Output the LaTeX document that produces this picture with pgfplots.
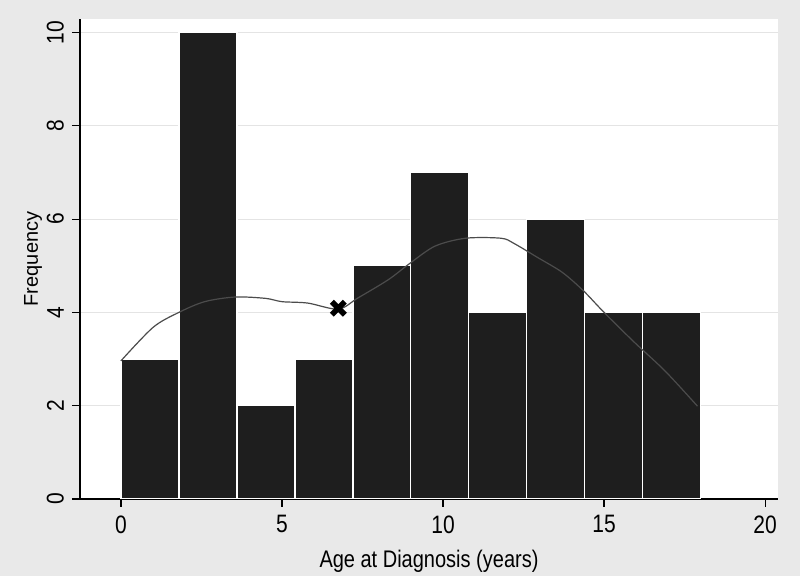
\documentclass[border=0pt]{standalone}
\usepackage{fontspec}
\setmainfont{Liberation Sans}
\usepackage{pgfplots}
\pgfplotsset{compat=1.18}

\definecolor{bggray}{RGB}{233,233,233}
\definecolor{bardark}{RGB}{30,30,30}
\definecolor{gridgray}{RGB}{228,228,228}

\begin{document}
\begin{tikzpicture}
\fill[bggray] (0,0) rectangle (400pt,288pt);
\begin{axis}[
    at={(40pt,38.5pt)}, anchor=south west,
    scale only axis,
    width=349pt, height=240pt,
    xmin=-1.27, xmax=20.4,
    ymin=0, ymax=10.29,
    axis background/.style={fill=white},
    axis x line*=bottom, axis y line*=left,
    axis line style={-, line width=0.6pt, black},
    xtick={0,5,10,15,20},
    ytick={0,2,4,6,8,10},
    tick align=outside,
    major tick length=4pt,
    tick style={black, line width=0.6pt},
    ymajorgrids=true,
    grid style={gridgray, line width=0.6pt},
    /pgf/number format/assume math mode=true,
    xticklabel style={font=\fontsize{10.5}{12}\selectfont, yscale=1.2},
    yticklabel style={font=\fontsize{10.5}{12}\selectfont, rotate=90, anchor=south, yscale=1.15},
    xlabel={Age at Diagnosis (years)},
    ylabel={Frequency},
    xlabel style={font=\fontsize{10}{12}\selectfont, yscale=1.2},
    ylabel style={font=\fontsize{10}{12}\selectfont, yshift=-5pt},
]
\addplot[ybar interval, fill=bardark, draw=white, line width=0.7pt] coordinates {
    (0,3) (1.8,10) (3.6,2) (5.4,3) (7.2,5) (9,7) (10.8,4) (12.6,6) (14.4,4) (16.2,4) (18,4)
};
\addplot[black!70, line width=0.6pt, smooth, no marks] coordinates {
    (0,2.96) (1.0,3.68) (1.8,4.0) (2.6,4.23) (3.55,4.33) (4.5,4.30) (5.0,4.23)
    (5.8,4.2) (6.75,4.07) (7.36,4.31) (8.3,4.7) (8.95,5.04) (9.75,5.42)
    (10.7,5.59) (11.8,5.59) (12.2,5.48) (12.93,5.18) (13.7,4.86) (14.35,4.47)
    (15.0,4.0) (15.94,3.36) (16.9,2.74) (17.9,1.99)
};
\addplot[only marks, mark=x, mark size=4.6pt, line width=2.8pt, black] coordinates {
    (6.75,4.09)
};
\end{axis}
\pgfresetboundingbox
\useasboundingbox (0,0) rectangle (400pt,288pt);
\end{tikzpicture}
\end{document}
